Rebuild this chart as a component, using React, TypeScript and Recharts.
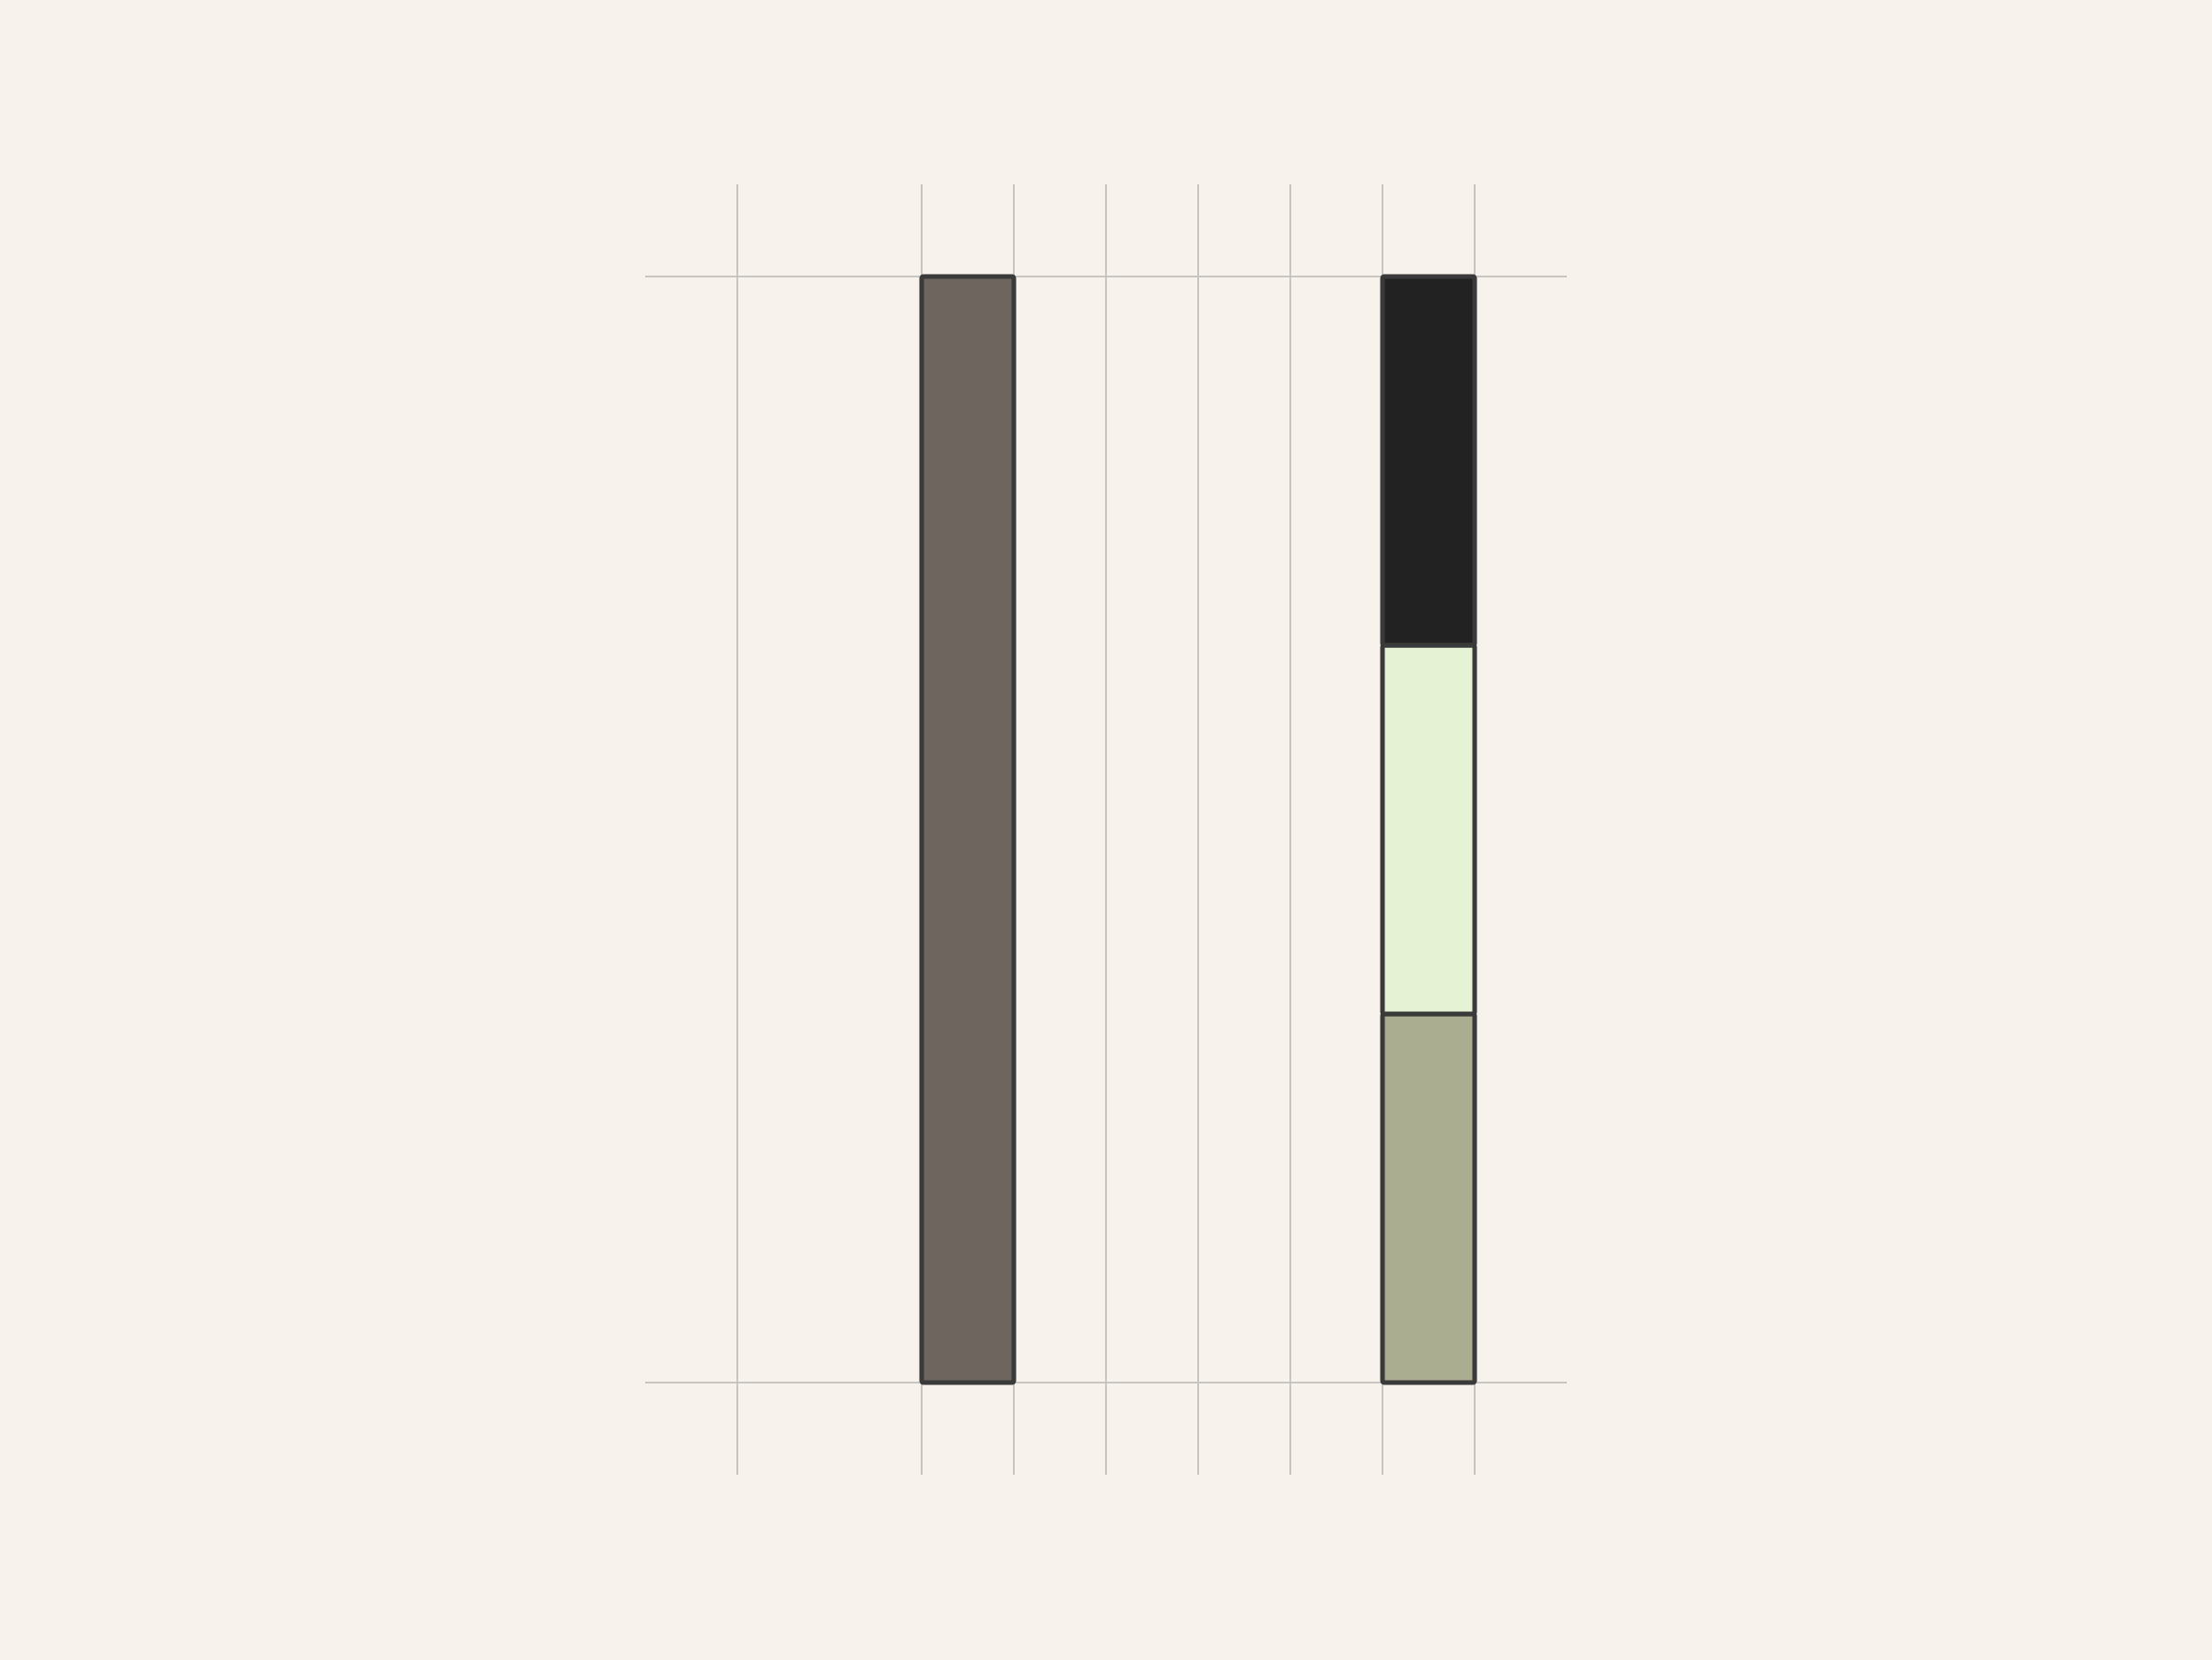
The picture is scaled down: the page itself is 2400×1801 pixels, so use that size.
import { Bar, BarChart, CartesianGrid, XAxis, YAxis } from "recharts";

const categories = ["A", "B", "C", "D", "E", "F", "G", "H", "I", "J"];
const solid = [null, null, null, 12, null, null, null, null, null, null];
const lower = [null, null, null, null, null, null, null, null, 4, null];
const middle = [null, null, null, null, null, null, null, null, 4, null];
const upper = [null, null, null, null, null, null, null, null, 4, null];
// grid lines sit on the boundaries between category slots
const gridTicks = [1, 3, 4, 5, 6, 7, 8, 9];
const valueTicks = [0, 12];

const data = categories.map((c, i) => ({
  name: c,
  slot: i + 0.5,
  solid: solid[i],
  lower: lower[i],
  middle: middle[i],
  upper: upper[i],
}));

const edge = { stroke: "#3a3a3a", strokeWidth: 5, radius: 2 } as const;

export default function App() {
  return (
    <div style={{ position: "absolute", left: 0, top: 0, width: 2400, height: 1801, background: "#f7f2ec" }}>
      <BarChart
        width={2400}
        height={1801}
        data={data}
        margin={{ top: 200, right: 700, bottom: 201, left: 700 }}
        barCategoryGap={0}
        barGap={0}
      >
        <CartesianGrid xAxisId="grid" stroke="#c8c6c2" strokeWidth={2} syncWithTicks />
        <XAxis dataKey="name" hide />
        <XAxis
          xAxisId="grid"
          dataKey="slot"
          type="number"
          domain={[0, categories.length]}
          ticks={gridTicks}
          allowDataOverflow
          hide
        />
        <YAxis type="number" domain={[-1, 13]} ticks={valueTicks} allowDataOverflow hide />
        <Bar dataKey="solid" stackId="s" fill="#6e665e" {...edge} isAnimationActive={false} />
        <Bar dataKey="lower" stackId="s" fill="#aaad8f" {...edge} isAnimationActive={false} />
        <Bar dataKey="middle" stackId="s" fill="#e6f2d4" {...edge} isAnimationActive={false} />
        <Bar dataKey="upper" stackId="s" fill="#222222" {...edge} isAnimationActive={false} />
      </BarChart>
    </div>
  );
}
